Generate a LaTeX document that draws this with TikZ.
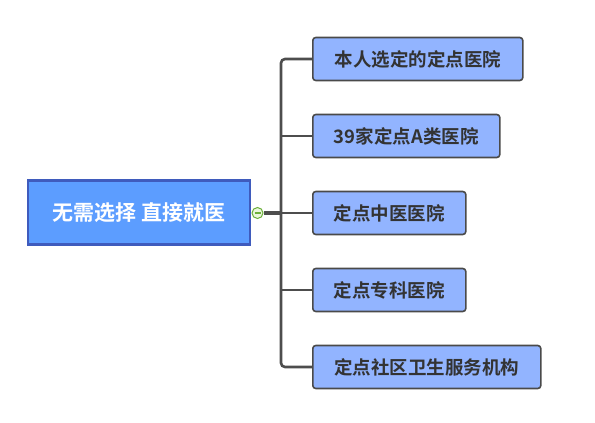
\documentclass[tikz,border=0pt]{standalone}
\usepackage{fontspec}
\usetikzlibrary{calc}
\setmainfont{Noto Sans CJK SC}[BoldFont={Noto Sans CJK SC Bold}]
\begin{document}
\begin{tikzpicture}[x=1pt,y=-1pt,
  rootbox/.style={draw=rootborder,line width=2.5pt,fill=rootfill,minimum width=222pt,minimum height=64pt,text=white,font=\fontsize{21pt}{23pt}\selectfont\bfseries,inner sep=0pt},
  childbox/.style={draw=childborder,line width=1.6pt,fill=childfill,rounded corners=3pt,minimum height=43pt,anchor=west,text=textcol,font=\fontsize{18.5pt}{20pt}\selectfont\bfseries,inner sep=0pt},
  branch/.style={draw=linecol,line width=2.2pt},
  trunk/.style={draw=linecol,line width=2.6pt,rounded corners=4pt}]
\definecolor{rootborder}{HTML}{3F5BBD}
\definecolor{rootfill}{HTML}{5C9DFF}
\definecolor{childborder}{HTML}{4A4A4A}
\definecolor{childfill}{HTML}{92B4FF}
\definecolor{textcol}{HTML}{333333}
\definecolor{linecol}{HTML}{4D4D4D}
\definecolor{greenedge}{HTML}{6BAF3A}
\definecolor{greenfill}{HTML}{EAF6DC}
\useasboundingbox[fill=white] (0,0) rectangle (595,423);
\node[rootbox] (root) at (139,212.5) {无需选择 直接就医};
\node[childbox,minimum width=210pt] (c1) at (312,59) {本人选定的定点医院};
\node[childbox,minimum width=187pt] (c2) at (312,136) {39家定点A类医院};
\node[childbox,minimum width=153pt] (c3) at (312,213) {定点中医医院};
\node[childbox,minimum width=153pt] (c4) at (312,290) {定点专科医院};
\node[childbox,minimum width=228pt] (c5) at (312,367) {定点社区卫生服务机构};
\coordinate (j) at (281,213);
\coordinate (jt) at (281,59);
\coordinate (jb) at (281,367);
\node[circle,draw=greenedge,fill=greenfill,line width=1pt,minimum size=11pt,inner sep=0pt] (tog) at (257.5,213) {};
\draw[line width=4pt,draw=linecol] (tog.east) -- (j);
\draw[trunk] (c1.west) -- (jt) -- (jb) -- (c5.west);
\draw[branch] (j) -- (c3.west);
\draw[branch] (c2.west) -| (j);
\draw[branch] (c4.west) -| (j);
\draw[greenedge,line width=1.3pt] ($(tog.center)+(-3,0)$) -- ($(tog.center)+(3,0)$);
\end{tikzpicture}
\end{document}
